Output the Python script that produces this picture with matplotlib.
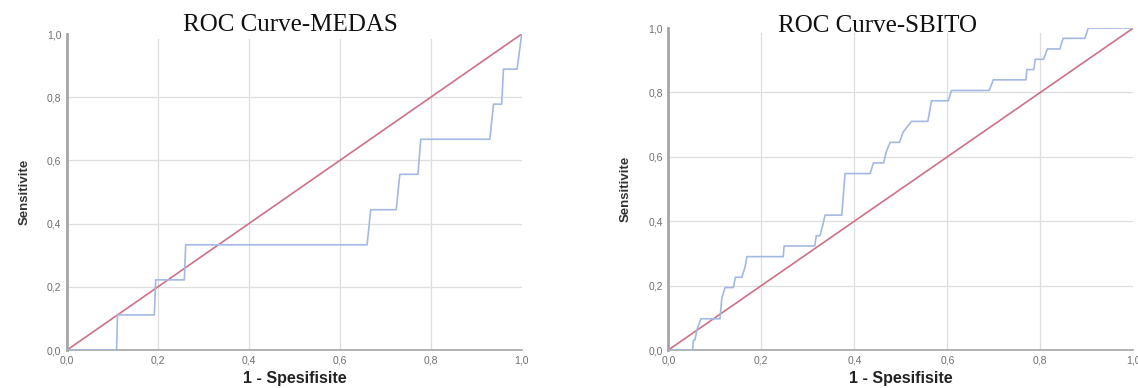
import matplotlib.pyplot as plt

# MEDAS ROC curve (1 - specificity, sensitivity)
medas_fpr = [0.0, 0.109, 0.111, 0.192, 0.195, 0.258, 0.261, 0.660, 0.668,
             0.724, 0.732, 0.772, 0.778, 0.930, 0.938, 0.956, 0.960, 0.990, 1.0]
medas_tpr = [0.0, 0.0, 0.111, 0.111, 0.222, 0.222, 0.333, 0.333, 0.444,
             0.444, 0.556, 0.556, 0.667, 0.667, 0.778, 0.778, 0.889, 0.889, 1.0]

# SBITO ROC curve
sbito_fpr = [0.0, 0.052, 0.054, 0.057, 0.062, 0.070, 0.111, 0.115, 0.122, 0.140,
             0.144, 0.158, 0.165, 0.169, 0.247, 0.249, 0.315, 0.318, 0.326, 0.332,
             0.337, 0.373, 0.380, 0.434, 0.441, 0.463, 0.468, 0.477, 0.497, 0.505,
             0.523, 0.558, 0.566, 0.602, 0.609, 0.690, 0.699, 0.769, 0.771, 0.786,
             0.789, 0.807, 0.815, 0.842, 0.849, 0.896, 0.903, 1.0]
sbito_tpr = [0.0, 0.0, 0.031, 0.031, 0.065, 0.097, 0.097, 0.161, 0.194, 0.194,
             0.226, 0.226, 0.258, 0.290, 0.290, 0.323, 0.323, 0.355, 0.355, 0.387,
             0.419, 0.419, 0.548, 0.548, 0.581, 0.581, 0.613, 0.645, 0.645, 0.677,
             0.710, 0.710, 0.774, 0.774, 0.806, 0.806, 0.839, 0.839, 0.871, 0.871,
             0.903, 0.903, 0.935, 0.935, 0.968, 0.968, 1.0, 1.0]

ticks = [0.0, 0.2, 0.4, 0.6, 0.8, 1.0]
tick_labels = ['0,0', '0,2', '0,4', '0,6', '0,8', '1,0']

curve_color = '#a3b9e2'
ref_color = '#cf7086'
spine_color = '#a6a6a6'
grid_color = '#dedede'
sans = ['Liberation Sans', 'DejaVu Sans']


def draw_roc(ax, fpr, tpr, title, title_x, title_y):
    for v in [0.2, 0.4, 0.6, 0.8]:
        ax.axhline(v, color=grid_color, lw=0.9, zorder=0)
        ax.axvline(v, ymax=0.985, color=grid_color, lw=0.9, zorder=0)

    ax.plot([0, 1], [0, 1], color=ref_color, lw=1.2, zorder=2)
    ax.plot(fpr, tpr, color=curve_color, lw=1.2, zorder=3)

    ax.set_xlim(0, 1)
    ax.set_ylim(0, 1)
    ax.set_xticks(ticks)
    ax.set_yticks(ticks)
    ax.set_xticklabels(tick_labels, family=sans)
    ax.set_yticklabels(tick_labels, family=sans)
    ax.tick_params(length=0, labelsize=7.5, labelcolor='#707070', pad=4)

    for side in ['top', 'right']:
        ax.spines[side].set_visible(False)
    ax.spines['left'].set_color(spine_color)
    ax.spines['left'].set_linewidth(2.0)
    ax.spines['bottom'].set_color(spine_color)
    ax.spines['bottom'].set_linewidth(1.2)

    ax.set_ylabel('Sensitivite', fontsize=9.5, family=sans,
                  fontweight='bold', color='#333333', labelpad=12)
    ax.set_xlabel('1 - Spesifisite', fontsize=11.5, fontweight='bold',
                  family=sans, color='#222222', labelpad=4)

    fig = ax.get_figure()
    fig.text(title_x, title_y, title, ha='center', va='center',
             fontsize=18, family=['Liberation Serif', 'DejaVu Serif'],
             color='#111111')


fig = plt.figure(figsize=(11.38, 3.88), dpi=100)

ax1 = fig.add_axes([0.0589, 0.0979, 0.3995, 0.8144])
draw_roc(ax1, medas_fpr, medas_tpr, 'ROC Curve-MEDAS', 290 / 1138, 1 - 25 / 388)

ax2 = fig.add_axes([0.5873, 0.0979, 0.4086, 0.8299])
draw_roc(ax2, sbito_fpr, sbito_tpr, 'ROC Curve-SBITO', 878 / 1138, 1 - 26 / 388)

plt.savefig('out.png', dpi=100)
